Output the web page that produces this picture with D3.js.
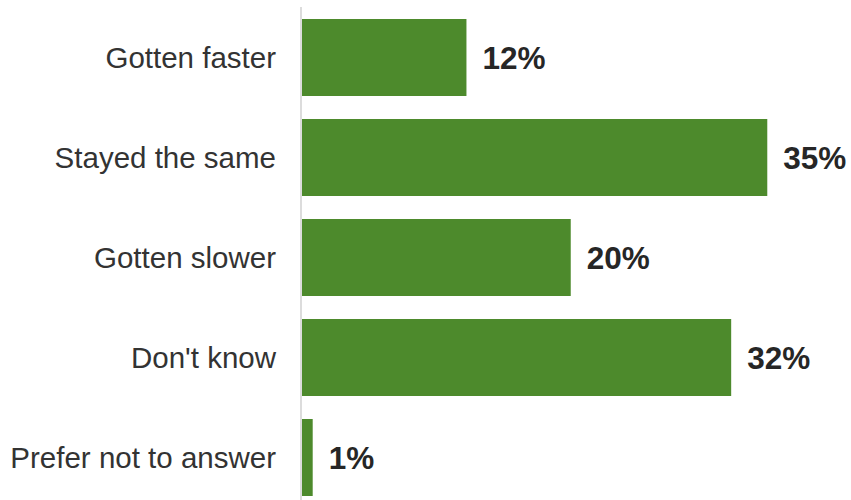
<!DOCTYPE html>
<html><head><meta charset="utf-8">
<script src="https://cdn.jsdelivr.net/npm/d3@7"></script>
<style>html,body{margin:0;padding:0;background:#fff;}svg{display:block;}</style>
</head><body>
<svg id="chart" width="851" height="500"></svg>
<script>
const categories = ["Gotten faster", "Stayed the same", "Gotten slower", "Don't know", "Prefer not to answer"];
const values = [12.3, 34.8, 20.1, 32.1, 0.8];

const svg = d3.select("#chart");
const x = d3.scaleLinear().domain([0, 40]).range([302, 836.8]);
const y = d3.scaleBand().domain(categories).range([7.5, 507.5]).paddingInner(0.23).paddingOuter(0.115);
const fmt = v => Math.round(v) + "%";

svg.selectAll("rect.bar").data(categories).join("rect")
  .attr("class", "bar")
  .attr("x", x(0))
  .attr("y", d => y(d))
  .attr("width", (d, i) => x(values[i]) - x(0))
  .attr("height", y.bandwidth())
  .attr("fill", "#4d8a2c");

svg.append("line")
  .attr("x1", 301).attr("x2", 301)
  .attr("y1", 7).attr("y2", 500)
  .attr("stroke", "#dcdcdc").attr("stroke-width", 2);

svg.selectAll("text.cat").data(categories).join("text")
  .attr("class", "cat")
  .attr("x", 276)
  .attr("y", d => y(d) + y.bandwidth() / 2)
  .attr("dy", "0.35em")
  .attr("text-anchor", "end")
  .style("font-family", "'Liberation Sans', Arial, sans-serif")
  .attr("font-size", 29.5)
  .attr("fill", "#333333")
  .text(d => d);

svg.selectAll("text.val").data(categories).join("text")
  .attr("class", "val")
  .attr("x", (d, i) => x(values[i]) + 16)
  .attr("y", d => y(d) + y.bandwidth() / 2)
  .attr("dy", "0.36em")
  .style("font-family", "'Liberation Sans', Arial, sans-serif")
  .attr("font-weight", "bold")
  .attr("font-size", 31.5)
  .attr("fill", "#262626")
  .text((d, i) => fmt(values[i]));
</script>
</body></html>
